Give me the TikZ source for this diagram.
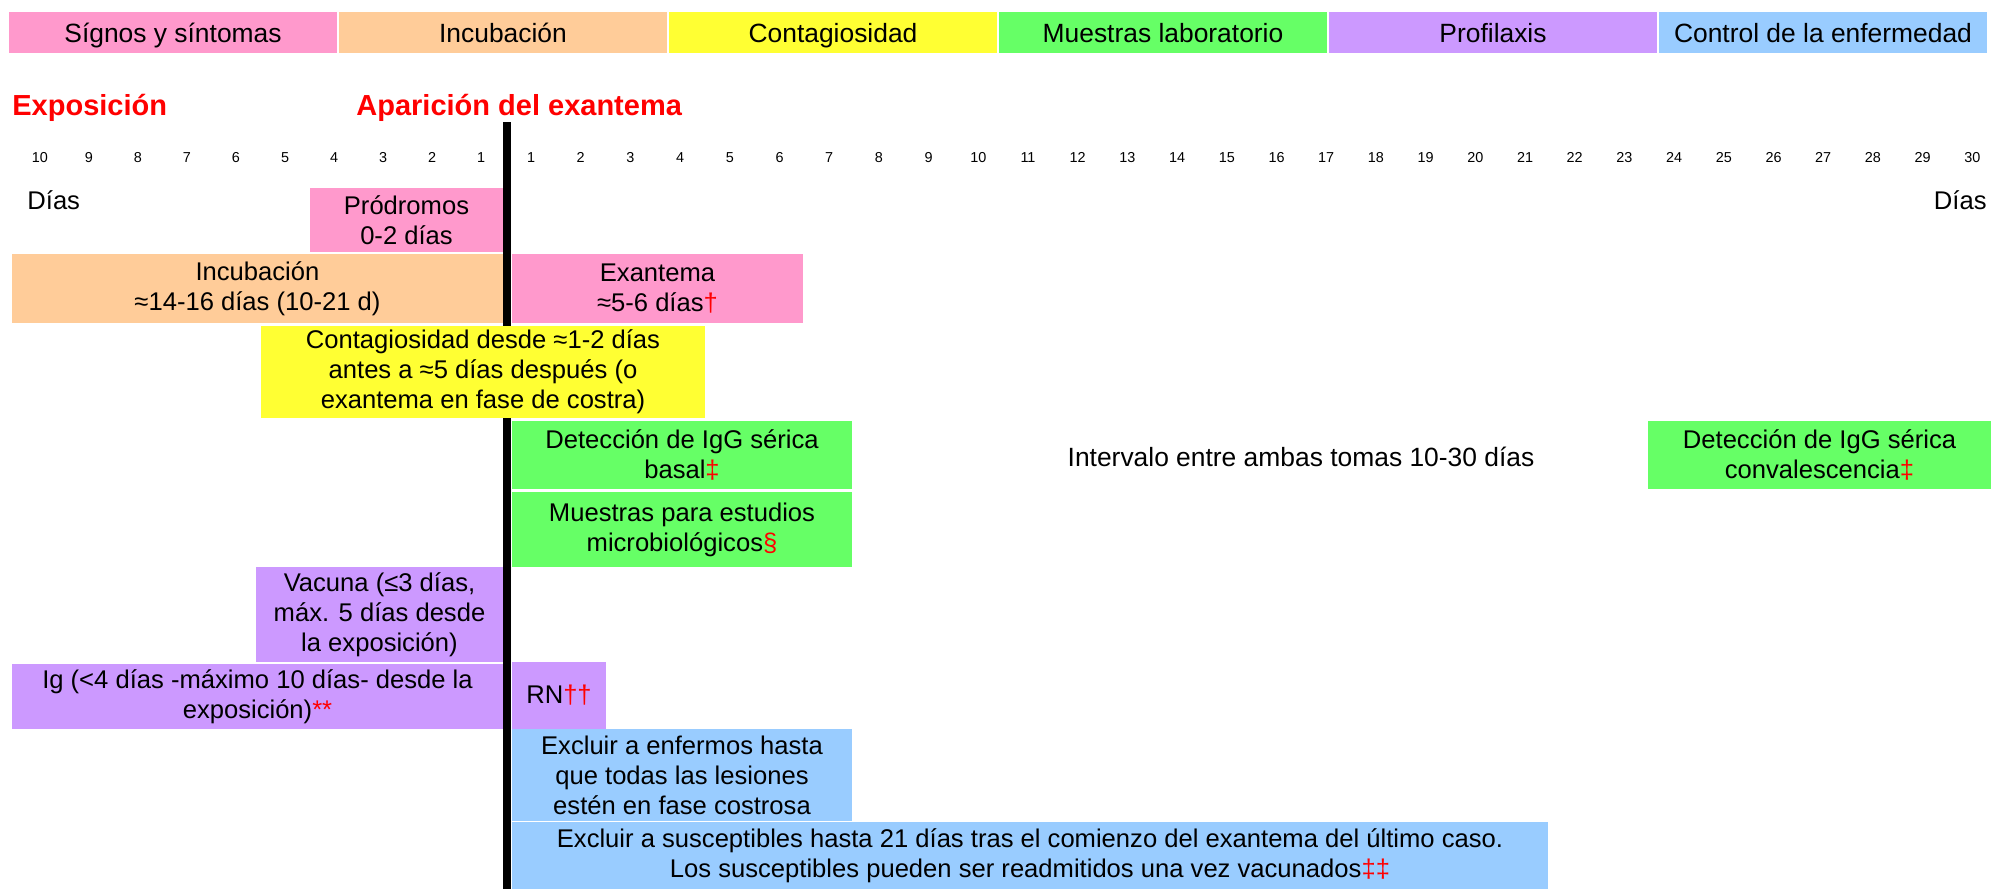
\documentclass[tikz,border=0pt]{standalone}
\usepackage{fontspec}
\setmainfont{Liberation Sans}
\definecolor{rosa}{HTML}{FF99CC}
\definecolor{melocoton}{HTML}{FFCC99}
\definecolor{amarillo}{HTML}{FFFF33}
\definecolor{verde}{HTML}{66FF66}
\definecolor{lila}{HTML}{CC99FF}
\definecolor{celeste}{HTML}{99CCFF}
\newcommand{\rojo}[1]{\textcolor{red}{#1}}
\begin{document}
\begin{tikzpicture}[x=0.5pt,y=-0.5pt,
		caja/.style n args={3}{fill=#1, minimum width=#2*0.5pt, minimum height=#3*0.5pt,
			inner sep=0pt, align=center, font=\fontsize{12.8}{15}\selectfont},
		cab/.style={caja={#1}{328}{41}, text height=9.5pt, text depth=0pt, font=\fontsize{13.2}{15}\selectfont},
		titulo/.style={inner sep=0pt, text=red, font=\fontsize{14.5}{16}\selectfont\bfseries},
		txt/.style={inner sep=0pt, font=\fontsize{12.8}{15}\selectfont},
		num/.style={inner sep=0pt, anchor=base, font=\fontsize{7.2}{8}\selectfont}]
		\useasboundingbox (0,0) rectangle (1991,889);
		
		\node[cab=rosa] at (173,32.5) (h1) {Sígnos y síntomas};
		\node[cab=melocoton] at (503,32.5) (h2) {Incubación};
		\node[cab=amarillo] at (833,32.5) (h3) {Contagiosidad};
		\node[cab=verde] at (1163,32.5) (h4) {Muestras laboratorio};
		\node[cab=lila] at (1493,32.5) (h5) {Profilaxis};
		\node[cab=celeste] at (1823,32.5) (h6) {Control de la enfermedad};
		
		\node[titulo, anchor=base west] at (12,115) (a) {Exposición};
		\node[titulo, anchor=base west] at (356,115) (b) {Aparición del exantema};
		
		\foreach \d in {1,...,10}
			\node[num] at ({481-(\d-1)*49},162) (m\d) {\d};
		\foreach \d in {1,...,30}
			\node[num] at ({531+(\d-1)*49.7},162) (p\d) {\d};
		
		\coordinate (e0) at (507,122);
		\coordinate (e1) at (507,889);
		\draw[line width=4pt] (e0) -- (e1);
		
		\node[txt, anchor=base west] at (27,209) (c) {Días};
		\node[txt, anchor=base east] at (1987,209) (d) {Días};
		
		\node[caja={rosa}{193}{64}] at (406.5,220) (f) {Pródromos\\0-2 días};
		\node[caja={melocoton}{491}{69}] at (257.5,288.5) (g) {Incubación\\≈14-16 días (10-21 d)};
		\node[caja={rosa}{291}{69}] at (657.5,288.5) (h) {Exantema\\≈5-6 días\rojo{†}};
		\node[caja={amarillo}{444}{92}] at (483,372) (i) {Contagiosidad desde ≈1-2 días\\antes a ≈5 días después (o\\exantema en fase de costra)};
		\node[caja={verde}{340}{68}] at (682,455) (j) {Detección de IgG sérica\\basal\rojo{‡}};
		\node[caja={verde}{340}{75}] at (682,529.5) (k) {Muestras para estudios\\microbiológicos\rojo{§}};
		\node[txt, font=\fontsize{13.2}{15}\selectfont] at (1301,457) (l) {Intervalo entre ambas tomas 10-30 días};
		\node[caja={verde}{343}{68}] at (1819.5,455) (n) {Detección de IgG sérica\\convalescencia\rojo{‡}};
		\node[caja={lila}{247}{95}] at (379.5,614.5) (o) {Vacuna (≤3 días,\\máx. 5 días desde\\la exposición)};
		\node[caja={lila}{491}{65}] at (257.5,696.5) (q) {Ig (<4 días -máximo 10 días- desde la\\exposición)\rojo{**}};
		\node[caja={lila}{94}{67}] at (559,695.5) (r) {RN\rojo{††}};
		\node[caja={celeste}{340}{92}] at (682,775) (s) {Excluir a enfermos hasta\\que todas las lesiones\\estén en fase costrosa};
		\node[caja={celeste}{1036}{67}] at (1030,855.5) (t) {Excluir a susceptibles hasta 21 días tras el comienzo del exantema del último caso.\\Los susceptibles pueden ser readmitidos una vez vacunados\rojo{‡‡}};
	\end{tikzpicture}
\end{document}
